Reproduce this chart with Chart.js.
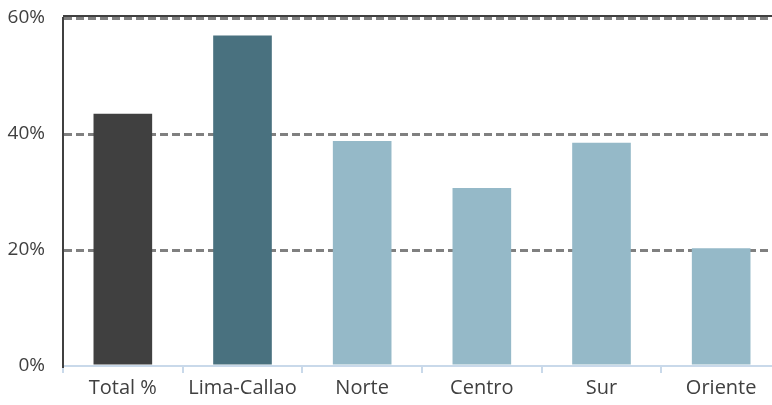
<!DOCTYPE html>
<html>
<head>
<meta charset="utf-8">
<script src="https://cdn.jsdelivr.net/npm/chart.js@4/dist/chart.umd.min.js"></script>
<style>
  html, body { margin: 0; padding: 0; background: #fff; overflow: hidden; }
  #wrap { width: 800px; height: 405px; }
</style>
</head>
<body>
<div id="wrap"><canvas id="chart" width="800" height="405"></canvas></div>
<script>
const categories = ['Total %', 'Lima-Callao', 'Norte', 'Centro', 'Sur', 'Oriente'];
const values = [43.5, 57.0, 38.8, 30.7, 38.5, 20.3];
const barColors = ['#404040', '#49717f', '#95b9c8', '#95b9c8', '#95b9c8', '#95b9c8'];
const yTicks = [0, 20, 40, 60];

// solid dark line just above the 60% gridline
const topLine = {
    id: 'topLine',
    afterDraw(chart) {
        let ctx = chart.ctx;
        let a = chart.chartArea;
        ctx.save();
        ctx.strokeStyle = '#404040';
        ctx.lineWidth = 2;
        ctx.beginPath();
        ctx.moveTo(a.left, a.top - 2);
        ctx.lineTo(a.right, a.top - 2);
        ctx.stroke();
        ctx.restore();
    }
};

let ctx = document.getElementById('chart').getContext('2d');
let myChart = new Chart(ctx, {
    type: 'bar',
    data: {
        labels: categories,
        datasets: [{
            data: values,
            backgroundColor: barColors,
            barPercentage: 0.49,
            categoryPercentage: 1.0,
        }]
    },
    options: {
        responsive: false,
        animation: false,
        layout: { padding: { top: 18, right: 19, left: 0, bottom: 0 } },
        plugins: { legend: { display: false }, tooltip: { enabled: false } },
        scales: {
            x: {
                grid: {
                    offset: true,
                    drawOnChartArea: false,
                    drawTicks: true,
                    tickLength: 7,
                    color: '#c9d9ea',
                    lineWidth: 2,
                },
                border: { color: '#c9d9ea', width: 2 },
                ticks: {
                    color: '#404040',
                    font: { family: 'Open Sans', size: 20 },
                    padding: 3,
                },
                afterFit: function (scale) { scale.height = 39; }
            },
            y: {
                min: 0,
                max: 60,
                afterBuildTicks: function (scale) {
                    scale.ticks = yTicks.map(v => ({ value: v }));
                },
                grid: {
                    drawTicks: false,
                    color: c => c.tick && c.tick.value === 0 ? 'rgba(0,0,0,0)' : '#808080',
                    lineWidth: 3,
                },
                border: { color: '#404040', width: 2, dash: [8, 4] },
                ticks: {
                    color: '#404040',
                    font: { family: 'Open Sans', size: 19 },
                    padding: 18,
                    callback: v => v + '%'
                },
                afterFit: function (scale) {
                    scale.width = 63;
                    scale.paddingTop = 0;
                    scale.paddingBottom = 0;
                }
            }
        }
    },
    plugins: [topLine]
});
</script>
</body>
</html>
